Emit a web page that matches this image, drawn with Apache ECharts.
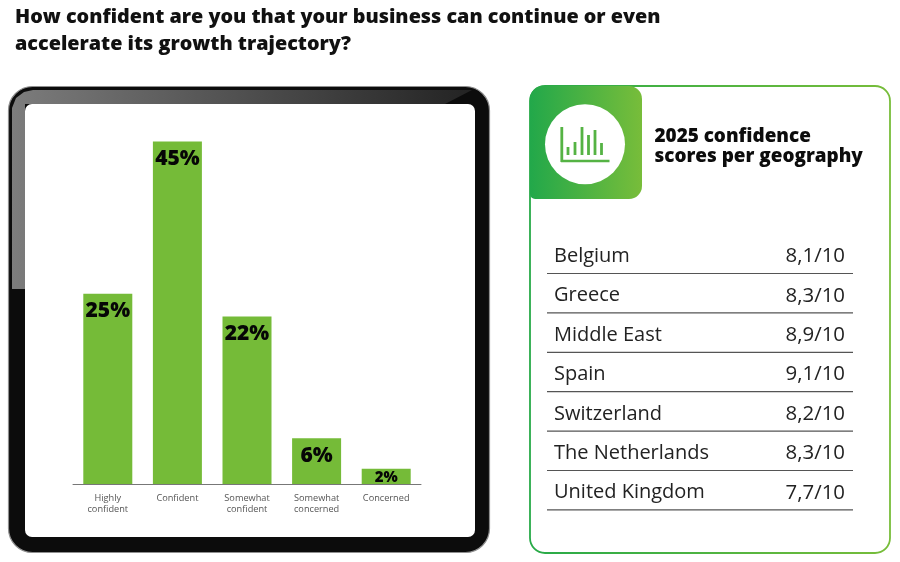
<!DOCTYPE html>
<html><head><meta charset="utf-8">
<script src="https://cdn.jsdelivr.net/npm/echarts@6/dist/echarts.min.js"></script>
<style>html,body{margin:0;padding:0;background:#fff}#c{width:900px;height:562px}</style>
</head><body><div id="c"></div>
<script>
const categories = ['Highly\nconfident','Confident','Somewhat\nconfident','Somewhat\nconcerned','Concerned'];
const shares = [25,45,22,6,2];
const geographies = ['Belgium','Greece','Middle East','Spain','Switzerland','The Netherlands','United Kingdom'];
const scores = ['8,1/10','8,3/10','8,9/10','9,1/10','8,2/10','8,3/10','7,7/10'];
const titleLines = ['How confident are you that your business can continue or even','accelerate its growth trajectory?'];
const panelTitle = ['2025 confidence','scores per geography'];
const iconBars = [[568,8],[575,13],[582,28],[588.5,20],[595,25],[601.5,12]];

const F = '"Open Sans"';
const G = (x0,y0,x1,y1,a,b)=>new echarts.graphic.LinearGradient(x0,y0,x1,y1,[{offset:0,color:a},{offset:1,color:b}]);
const g = [];
// tablet body
g.push({type:'rect',shape:{x:8.5,y:86.5,width:481,height:466,r:24},style:{fill:'#0c0c0c',stroke:'#8f8f8f',lineWidth:1.2},z:0});
// glossy reflection band along the top and upper left edge
g.push({type:'polygon',shape:{points:[[12,289],[25,289],[25,104],[445,104],[472,90],[33,90],[24,92],[16,98],[12,108]]},
  style:{fill:G(0,0,1,0,'#7c7c7c','#232323')},z:0});
g.push({type:'rect',shape:{x:25,y:104,width:450,height:433,r:7},style:{fill:'#fff'},z:0});
// panel
g.push({type:'rect',shape:{x:530,y:86,width:360,height:467,r:15},style:{fill:'#fff',stroke:G(0,0,1,0,'#27aa48','#78bd3a'),lineWidth:1.8},z:0});
g.push({type:'rect',shape:{x:530,y:86,width:112,height:113,r:[13,13,13,5]},style:{fill:G(0,0,1,0,'#22a84a','#78bd3a')},z:1});
g.push({type:'circle',shape:{cx:585,cy:144.3,r:40},style:{fill:'#fff'},z:2});
g.push({type:'line',shape:{x1:561.8,y1:127,x2:561.8,y2:162},style:{stroke:'#55b344',lineWidth:2.8},z:3});
g.push({type:'line',shape:{x1:561,y1:161,x2:609.5,y2:161},style:{stroke:'#55b344',lineWidth:2.6},z:3});
iconBars.forEach(b=>g.push({type:'line',shape:{x1:b[0],y1:155-b[1],x2:b[0],y2:155},style:{stroke:'#55b344',lineWidth:2.8},z:3}));
// text
titleLines.forEach((t,i)=>g.push({type:'text',x:15,y:17+i*27,style:{text:t,font:'800 19.8px '+F,fill:'#111',verticalAlign:'middle'},z:3}));
panelTitle.forEach((t,i)=>g.push({type:'text',x:654.5,y:137+i*19.8,style:{text:t,font:'800 18.9px '+F,fill:'#0c0c0c',verticalAlign:'middle'},z:3}));
geographies.forEach((t,i)=>{
  const y=256.3+i*39.4;
  g.push({type:'text',x:554,y:y,style:{text:t,font:'400 20px '+F,fill:'#222',verticalAlign:'middle'},z:3});
  g.push({type:'text',x:845,y:y,style:{text:scores[i],font:'400 20.4px '+F,fill:'#222',align:'right',verticalAlign:'middle'},z:3});
  g.push({type:'line',shape:{x1:547,y1:273.5+i*39.4,x2:853,y2:273.5+i*39.4},style:{stroke:'#555',lineWidth:1.2},z:3});
});

const chart = echarts.init(document.getElementById('c'),null,{renderer:'canvas'});
chart.setOption({
  animation:false,
  backgroundColor:'#fff',
  graphic:{elements:g},
  grid:{left:73,top:141.5,width:348,height:342.5,containLabel:false},
  xAxis:{type:'category',data:categories,
    axisLine:{lineStyle:{color:'#777',width:1}},axisTick:{show:false},
    axisLabel:{interval:0,margin:8.5,fontFamily:F,fontSize:9.2,color:'#555',lineHeight:11.5,verticalAlign:'top'}},
  yAxis:{type:'value',min:0,max:45,show:false,splitLine:{show:false}},
  series:[{type:'bar',barWidth:49,z:5,
    data:shares.map(v=>v<5?{value:v,label:{fontSize:15,distance:1.5}}:v),
    itemStyle:{color:'#75bb38'},
    label:{show:true,position:'insideTop',distance:7,fontFamily:F,fontWeight:800,fontSize:21,color:'#060606',
      formatter:p=>p.value+'%'}}]
});
</script></body></html>
